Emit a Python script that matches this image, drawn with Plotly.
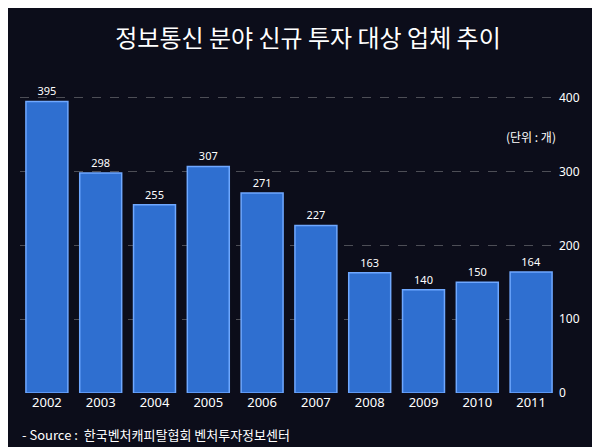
import plotly.graph_objects as go

years = ["2002","2003","2004","2005","2006","2007","2008","2009","2010","2011"]
values = [395, 298, 255, 307, 271, 227, 163, 140, 150, 164]
ticks = [0, 100, 200, 300, 400]

fig = go.Figure()
fig.add_trace(go.Bar(
    x=years, y=values, text=[str(v) for v in values], textposition="outside",
    textfont=dict(color="white", size=11, family="Noto Sans"),
    marker=dict(color="#2f6fd0", line=dict(color="#6fa8ff", width=1.5)),
    width=0.78, cliponaxis=False,
))
fig.update_layout(
    width=600, height=447,
    paper_bgcolor="#0c0d1a", plot_bgcolor="rgba(0,0,0,0)",
    margin=dict(l=12, r=50, t=75, b=62),
    title=dict(text="정보통신 분야 신규 투자 대상 업체 추이", x=0.5, y=0.95, xanchor="center",
               font=dict(color="white", size=24, family="Noto Sans CJK KR")),
    showlegend=False, bargap=0.22,
    xaxis=dict(tickfont=dict(color="white", size=13, family="Noto Sans"), showline=False, showgrid=False),
    yaxis=dict(side="right", range=[0, 420], tickvals=ticks,
               tickfont=dict(color="white", size=12, family="Noto Sans"),
               gridcolor="rgba(200,200,200,0.35)", griddash="dash", zeroline=False),
    annotations=[
        dict(text="(단위 : 개)", x=1.0, y=0.86, xref="paper", yref="paper", xanchor="right",
             showarrow=False, font=dict(color="white", size=12, family="Noto Sans CJK KR")),
        dict(text="- Source :  한국벤처캐피탈협회 벤처투자정보센터", x=0.0, y=4, xref="paper", yref="paper",
             xanchor="left", yanchor="bottom", yshift=0, showarrow=False,
             font=dict(color="white", size=13, family="Noto Sans CJK KR")),
    ],
)
fig.layout.annotations[1].update(y=0, yref="paper", yanchor="top", yshift=-30)
fig.write_html("out.html")
